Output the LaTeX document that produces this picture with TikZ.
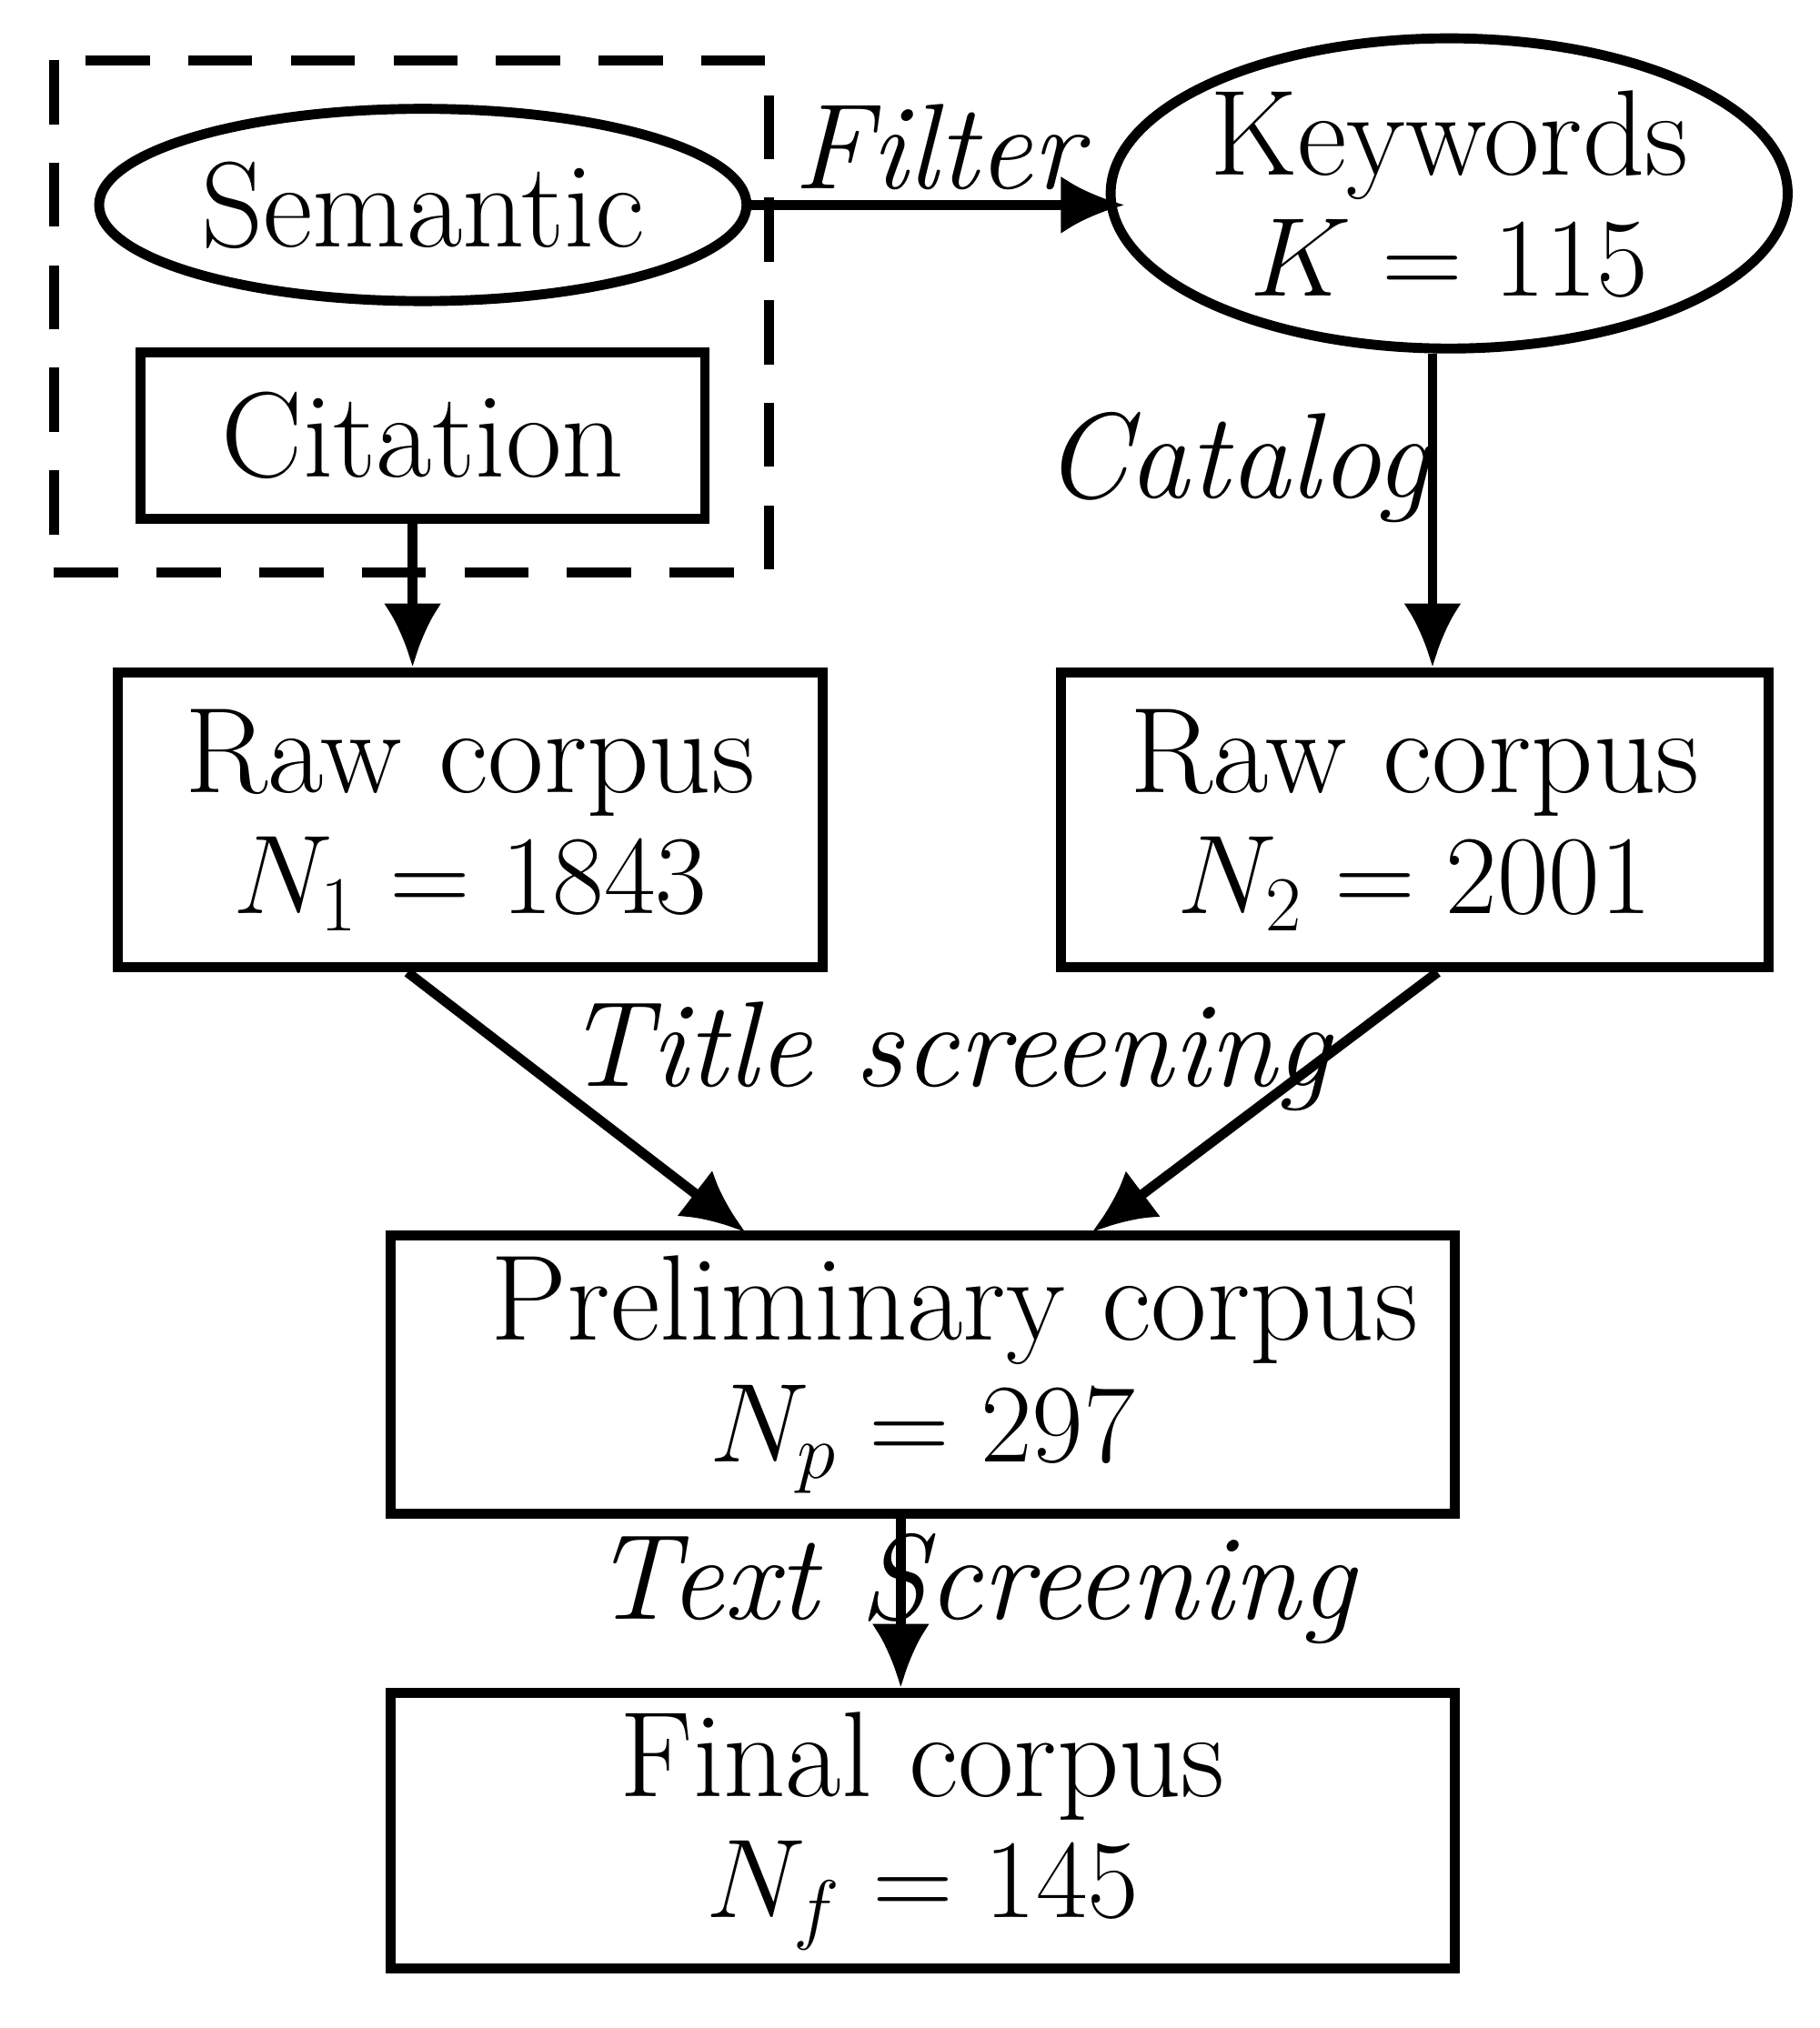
\documentclass[tikz,border=0pt]{standalone}
\usetikzlibrary{shapes.geometric,arrows.meta}
\begin{document}
\begin{tikzpicture}[x=0.01cm,y=-0.01cm,
  every node/.style={font=\fontsize{27}{27}\selectfont},
  box/.style={draw,line width=2.2pt,rectangle,inner sep=0pt,align=center},
  ell/.style={draw,line width=2.2pt,ellipse,inner sep=0pt,align=center},
  arr/.style={line width=2.2pt,-{Latex[length=0.5cm,width=0.45cm]}},
  lab/.style={font=\fontsize{27}{27}\selectfont\itshape}]
\useasboundingbox (0,0) rectangle (1420,1583);
\draw[line width=2.2pt,dash pattern=on 0.5cm off 0.3cm] (42,47) rectangle (600,447);
\node[ell,minimum width=5.05cm,minimum height=1.5cm] (sem) at (330,160) {Semantic};
\node[box,minimum width=4.4cm,minimum height=1.3cm] (cit) at (330,340) {Citation};
\node[ell,minimum width=5.07cm,minimum height=2.42cm] (kw) at (1131,151) {Keywords\\$K=115$};
\node[box,minimum width=5.5cm,minimum height=2.3cm] (r1) at (367,640) {Raw corpus\\$N_1=1843$};
\node[box,minimum width=5.52cm,minimum height=2.3cm] (r2) at (1104,640) {Raw corpus\\$N_2=2001$};
\node[box,minimum width=8.3cm,minimum height=2.17cm] (pre) at (720,1073) {\hspace*{0.5cm}Preliminary corpus\\$N_p=297$};
\node[box,minimum width=8.3cm,minimum height=2.15cm] (fin) at (720,1429) {Final corpus\\$N_f=145$};
\coordinate (a1) at (583,160);
\coordinate (a2) at (878,160);
\draw[arr] (a1) -- (a2);
\node[lab] (fl) at (732,115) {Filter};
\draw[arr] (kw.south -| r2.north) ++(14,0) coordinate (k2) -- (k2 |- r2.north) coordinate (k3);
\node[lab] (cat) at (965,365) {Catalog};
\draw[arr] (cit.south -| 322,0) -- (r1.north -| 322,0);
\coordinate (p1) at (582,962);
\coordinate (p2) at (852,962);
\draw[arr] (r1.south -| 318,0) -- (p1);
\draw[arr] (r2.south -| 1122,0) -- (p2);
\node[lab] (ts) at (740,825) {Title screening};
\draw[arr] (pre.south -| 703,0) -- (fin.north -| 703,0);
\node[lab] (tx) at (760,1240) {Text Screening};
\end{tikzpicture}
\end{document}
